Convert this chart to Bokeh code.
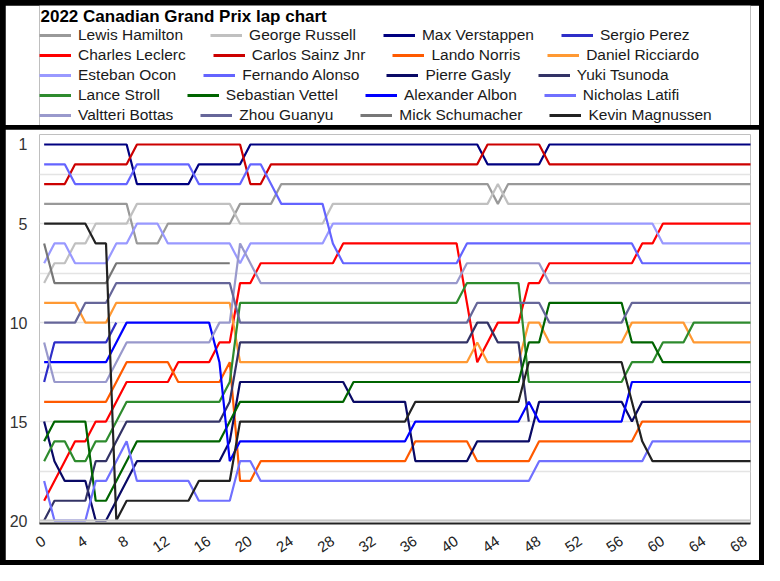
from bokeh.plotting import figure
from bokeh.layouts import column
from bokeh.models import Range1d, FixedTicker, Legend, LegendItem, Label, Span
from bokeh.embed import file_html
from bokeh.resources import INLINE

TITLE = "2022 Canadian Grand Prix lap chart"

laps = list(range(0, 70))
x_ticks = [0, 4, 8, 12, 16, 20, 24, 28, 32, 36, 40, 44, 48, 52, 56, 60, 64, 68]
y_ticks = [1, 5, 10, 15, 20]
grid_ticks = [2.5, 5, 7.5, 10, 12.5, 15, 17.5, 20]

hamilton = [4, 4, 4, 4, 4, 4, 4, 4, 4, 6,
            6, 6, 5, 5, 5, 5, 5, 5, 5, 4,
            4, 4, 4, 3, 3, 3, 3, 3, 3, 3,
            3, 3, 3, 3, 3, 3, 3, 3, 3, 3,
            3, 3, 3, 3, 4, 3, 3, 3, 3, 3,
            3, 3, 3, 3, 3, 3, 3, 3, 3, 3,
            3, 3, 3, 3, 3, 3, 3, 3, 3, 3]
russell = [8, 7, 7, 6, 6, 5, 5, 5, 5, 4,
           4, 4, 4, 4, 4, 4, 4, 4, 4, 5,
           5, 5, 5, 5, 5, 5, 5, 5, 4, 4,
           4, 4, 4, 4, 4, 4, 4, 4, 4, 4,
           4, 4, 4, 4, 3, 4, 4, 4, 4, 4,
           4, 4, 4, 4, 4, 4, 4, 4, 4, 4,
           4, 4, 4, 4, 4, 4, 4, 4, 4, 4]
verstappen = [1, 1, 1, 1, 1, 1, 1, 1, 1, 3,
              3, 3, 3, 3, 3, 2, 2, 2, 2, 2,
              1, 1, 1, 1, 1, 1, 1, 1, 1, 1,
              1, 1, 1, 1, 1, 1, 1, 1, 1, 1,
              1, 1, 1, 2, 2, 2, 2, 2, 2, 1,
              1, 1, 1, 1, 1, 1, 1, 1, 1, 1,
              1, 1, 1, 1, 1, 1, 1, 1, 1, 1]
perez = [13, 11, 11, 11, 11, 11, 11, 10]
leclerc = [19, 18, 17, 16, 16, 15, 15, 14, 13, 13,
           13, 13, 13, 12, 12, 12, 12, 11, 11, 8,
           8, 7, 7, 7, 7, 7, 7, 7, 7, 6,
           6, 6, 6, 6, 6, 6, 6, 6, 6, 6,
           6, 9, 12, 11, 10, 10, 10, 8, 8, 7,
           7, 7, 7, 7, 7, 7, 7, 7, 6, 6,
           5, 5, 5, 5, 5, 5, 5, 5, 5, 5]
sainz = [3, 3, 3, 2, 2, 2, 2, 2, 2, 1,
         1, 1, 1, 1, 1, 1, 1, 1, 1, 1,
         3, 3, 2, 2, 2, 2, 2, 2, 2, 2,
         2, 2, 2, 2, 2, 2, 2, 2, 2, 2,
         2, 2, 2, 1, 1, 1, 1, 1, 1, 2,
         2, 2, 2, 2, 2, 2, 2, 2, 2, 2,
         2, 2, 2, 2, 2, 2, 2, 2, 2, 2]
norris = [14, 14, 14, 14, 14, 14, 14, 13, 12, 12,
          12, 12, 12, 13, 13, 13, 13, 13, 12, 18,
          18, 17, 17, 17, 17, 17, 17, 17, 17, 17,
          17, 17, 17, 17, 17, 17, 16, 16, 16, 16,
          16, 16, 17, 17, 17, 17, 17, 17, 16, 16,
          16, 16, 16, 16, 16, 16, 16, 16, 15, 15,
          15, 15, 15, 15, 15, 15, 15, 15, 15, 15]
ricciardo = [9, 9, 9, 9, 10, 10, 10, 9, 9, 9,
             9, 9, 9, 9, 9, 9, 9, 9, 9, 12,
             12, 12, 12, 12, 12, 12, 12, 12, 12, 12,
             12, 12, 12, 12, 12, 12, 12, 12, 12, 12,
             12, 12, 11, 12, 12, 12, 12, 10, 10, 11,
             11, 11, 11, 11, 11, 11, 11, 10, 10, 10,
             10, 10, 10, 11, 11, 11, 11, 11, 11, 11]
ocon = [7, 6, 6, 7, 7, 7, 7, 6, 6, 5,
        5, 5, 6, 6, 6, 6, 6, 6, 6, 7,
        6, 6, 6, 6, 6, 6, 6, 6, 5, 5,
        5, 5, 5, 5, 5, 5, 5, 5, 5, 5,
        5, 5, 5, 5, 5, 5, 5, 5, 5, 5,
        5, 5, 5, 5, 5, 5, 5, 5, 5, 5,
        6, 6, 6, 6, 6, 6, 6, 6, 6, 6]
alonso = [2, 2, 2, 3, 3, 3, 3, 3, 3, 2,
          2, 2, 2, 2, 2, 3, 3, 3, 3, 3,
          2, 2, 3, 4, 4, 4, 4, 4, 6, 7,
          7, 7, 7, 7, 7, 7, 7, 7, 7, 7,
          7, 6, 6, 6, 6, 6, 6, 6, 6, 6,
          6, 6, 6, 6, 6, 6, 6, 6, 7, 7,
          7, 7, 7, 7, 7, 7, 7, 7, 7, 7]
gasly = [15, 17, 18, 18, 18, 20, 20, 19, 18, 17,
         17, 17, 17, 17, 17, 17, 17, 17, 16, 13,
         13, 13, 13, 13, 13, 13, 13, 13, 13, 13,
         14, 14, 14, 14, 14, 14, 17, 17, 17, 17,
         17, 17, 16, 16, 16, 16, 16, 16, 14, 14,
         14, 14, 14, 14, 14, 14, 14, 15, 14, 14,
         14, 14, 14, 14, 14, 14, 14, 14, 14, 14]
tsunoda = [20, 19, 19, 19, 19, 17, 17, 16, 15, 15,
           15, 15, 15, 15, 15, 15, 15, 15, 14, 11,
           11, 11, 11, 11, 11, 11, 11, 11, 11, 11,
           11, 11, 11, 11, 11, 11, 11, 11, 11, 11,
           11, 11, 10, 10, 11, 11, 11, 15]
stroll = [17, 16, 16, 17, 17, 16, 16, 15, 14, 14,
          14, 14, 14, 14, 14, 14, 14, 14, 13, 9,
          9, 9, 9, 9, 9, 9, 9, 9, 9, 9,
          9, 9, 9, 9, 9, 9, 9, 9, 9, 9,
          9, 8, 8, 8, 8, 8, 8, 13, 13, 13,
          13, 13, 13, 13, 13, 13, 13, 12, 12, 12,
          11, 11, 11, 10, 10, 10, 10, 10, 10, 10]
vettel = [16, 15, 15, 15, 15, 19, 19, 18, 17, 16,
          16, 16, 16, 16, 16, 16, 16, 16, 15, 14,
          14, 14, 14, 14, 14, 14, 14, 14, 14, 14,
          13, 13, 13, 13, 13, 13, 13, 13, 13, 13,
          13, 13, 13, 13, 13, 13, 13, 11, 11, 9,
          9, 9, 9, 9, 9, 9, 9, 11, 11, 11,
          12, 12, 12, 12, 12, 12, 12, 12, 12, 12]
albon = [12, 12, 12, 12, 12, 12, 12, 11, 10, 10,
         10, 10, 10, 10, 10, 10, 10, 12, 17, 16,
         16, 16, 16, 16, 16, 16, 16, 16, 16, 16,
         16, 16, 16, 16, 16, 16, 15, 15, 15, 15,
         15, 15, 15, 15, 15, 15, 15, 14, 15, 15,
         15, 15, 15, 15, 15, 15, 15, 13, 13, 13,
         13, 13, 13, 13, 13, 13, 13, 13, 13, 13]
latifi = [18, 20, 20, 20, 20, 18, 18, 17, 16, 18,
          18, 18, 18, 18, 18, 19, 19, 19, 19, 17,
          17, 18, 18, 18, 18, 18, 18, 18, 18, 18,
          18, 18, 18, 18, 18, 18, 18, 18, 18, 18,
          18, 18, 18, 18, 18, 18, 18, 18, 17, 17,
          17, 17, 17, 17, 17, 17, 17, 17, 17, 16,
          16, 16, 16, 16, 16, 16, 16, 16, 16, 16]
bottas = [11, 13, 13, 13, 13, 13, 13, 12, 11, 11,
          11, 11, 11, 11, 11, 11, 11, 10, 10, 6,
          7, 8, 8, 8, 8, 8, 8, 8, 8, 8,
          8, 8, 8, 8, 8, 8, 8, 8, 8, 8,
          8, 7, 7, 7, 7, 7, 7, 7, 7, 8,
          8, 8, 8, 8, 8, 8, 8, 8, 8, 8,
          8, 8, 8, 8, 8, 8, 8, 8, 8, 8]
zhou = [10, 10, 10, 10, 9, 9, 9, 8, 8, 8,
        8, 8, 8, 8, 8, 8, 8, 8, 8, 10,
        10, 10, 10, 10, 10, 10, 10, 10, 10, 10,
        10, 10, 10, 10, 10, 10, 10, 10, 10, 10,
        10, 10, 9, 9, 9, 9, 9, 9, 9, 10,
        10, 10, 10, 10, 10, 10, 10, 9, 9, 9,
        9, 9, 9, 9, 9, 9, 9, 9, 9, 9]
schumacher = [6, 8, 8, 8, 8, 8, 8, 7, 7, 7,
              7, 7, 7, 7, 7, 7, 7, 7, 7]
magnussen = [5, 5, 5, 5, 5, 6, 6, 20, 19, 19,
             19, 19, 19, 19, 19, 18, 18, 18, 18, 15,
             15, 15, 15, 15, 15, 15, 15, 15, 15, 15,
             15, 15, 15, 15, 15, 15, 14, 14, 14, 14,
             14, 14, 14, 14, 14, 14, 14, 12, 12, 12,
             12, 12, 12, 12, 12, 12, 12, 14, 16, 17,
             17, 17, 17, 17, 17, 17, 17, 17, 17, 17]

drivers = ["Lewis Hamilton", "George Russell", "Max Verstappen", "Sergio Perez",
           "Charles Leclerc", "Carlos Sainz Jnr", "Lando Norris", "Daniel Ricciardo",
           "Esteban Ocon", "Fernando Alonso", "Pierre Gasly", "Yuki Tsunoda",
           "Lance Stroll", "Sebastian Vettel", "Alexander Albon", "Nicholas Latifi",
           "Valtteri Bottas", "Zhou Guanyu", "Mick Schumacher", "Kevin Magnussen"]
colors = ["#999999", "#c0c0c0", "#000080", "#2e2ec8",
          "#ff0000", "#cc0000", "#ff5a00", "#ff9933",
          "#9999ff", "#6464ff", "#0a0a66", "#333366",
          "#2e8b2e", "#006400", "#0000ff", "#7070ff",
          "#9999cc", "#666699", "#777777", "#222222"]
series = [hamilton, russell, verstappen, perez,
          leclerc, sainz, norris, ricciardo,
          ocon, alonso, gasly, tsunoda,
          stroll, vettel, albon, latifi,
          bottas, zhou, schumacher, magnussen]

FONT = "Liberation Sans"
LEFT, RIGHT = 34, 9

# ---------- header (title + legend) ----------
header = figure(width=754, height=120, x_range=Range1d(0, 754 - LEFT - RIGHT), y_range=Range1d(0, 120),
                output_backend="svg", toolbar_location=None,
                x_axis_location=None, y_axis_location=None,
                min_border_left=LEFT, min_border_right=RIGHT, min_border_top=0, min_border_bottom=0)
header.outline_line_color = None
header.xgrid.visible = False
header.ygrid.visible = False

header.add_layout(Label(x=1, y=109.5, text=TITLE, text_font=FONT, text_font_style="bold",
                        text_font_size="17px", text_baseline="middle", text_color="#000000"))

dummies = []
for c in colors:
    dummies.append(header.line(x=[-200, -100], y=[-20, -20], line_color=c, line_width=3))

row_bottoms = [80, 60, 40, 20, 0]
for r in range(5):
    items = [LegendItem(label=drivers[4 * r + k], renderers=[dummies[4 * r + k]]) for k in range(4)]
    leg = Legend(items=items, location=(0, row_bottoms[r]), orientation="horizontal",
                 spacing=27, glyph_width=32, glyph_height=20, label_height=20,
                 label_standoff=7, padding=0, margin=0,
                 border_line_color=None, background_fill_alpha=0,
                 label_text_font=FONT, label_text_font_size="15.5px",
                 label_text_color="#1a1a1a")
    header.add_layout(leg)

# ---------- main lap chart ----------
p = figure(width=754, height=431, x_range=Range1d(-0.45, 68.5), y_range=Range1d(20.15, 0.495),
           output_backend="svg", toolbar_location=None,
           min_border_left=LEFT, min_border_right=RIGHT, min_border_top=5, min_border_bottom=37)
p.outline_line_color = None

p.add_layout(Span(location=20, dimension="width", line_color="#c8c8c8", line_width=2))

for name, c, pos in zip(drivers, colors, series):
    p.line(x=laps[:len(pos)], y=pos, line_color=c, line_width=2.2)

p.xgrid.visible = False
p.ygrid.ticker = FixedTicker(ticks=grid_ticks)
p.ygrid.grid_line_color = "#e4e4e4"
p.ygrid.grid_line_width = 1.5

p.xaxis.ticker = FixedTicker(ticks=x_ticks)
p.xaxis.major_label_orientation = 0.6
p.xaxis.axis_line_color = "#222222"
p.xaxis.axis_line_width = 2
p.xaxis.major_tick_line_color = None
p.xaxis.minor_tick_line_color = None
p.xaxis.major_tick_out = 0
p.xaxis.major_tick_in = 0
p.xaxis.minor_tick_out = 0
p.xaxis.major_label_standoff = 16
p.xaxis.major_label_text_font = FONT
p.xaxis.major_label_text_font_size = "15px"
p.xaxis.major_label_text_color = "#222222"

p.yaxis.ticker = FixedTicker(ticks=y_ticks)
p.yaxis.axis_line_color = None
p.yaxis.major_tick_line_color = None
p.yaxis.minor_tick_line_color = None
p.yaxis.major_tick_out = 0
p.yaxis.major_tick_in = 0
p.yaxis.minor_tick_out = 0
p.yaxis.major_label_standoff = 12
p.yaxis.major_label_text_font = FONT
p.yaxis.major_label_text_font_size = "16px"
p.yaxis.major_label_text_color = "#333333"

layout = column(header, p, spacing=4,
                styles={"background-color": "black", "padding": "5px"})

open("out.html", "w").write(file_html(layout, INLINE, title=TITLE))
